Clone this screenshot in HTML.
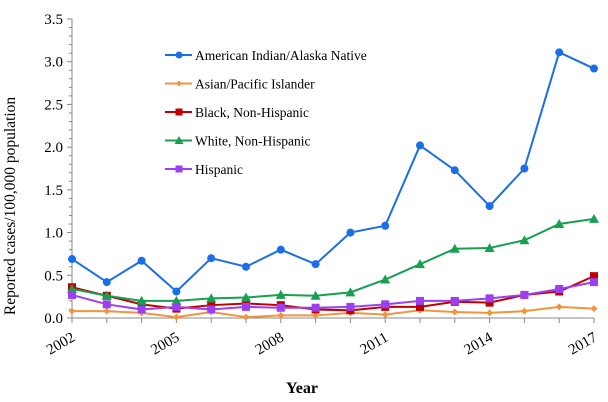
<!DOCTYPE html>
<html><head><meta charset="utf-8"><style>
body{margin:0;background:#fff}
svg{display:block;font-family:"Liberation Serif",serif}
</style></head><body>
<svg id="chart" width="608" height="402" viewBox="0 0 608 402">
<g id="axes"></g><g id="series"></g><g id="legend"></g>
<text x="15" y="206" transform="rotate(-90 15 206)" text-anchor="middle" font-size="15.5" fill="#000">Reported cases/100,000 population</text>
<text x="302" y="393" text-anchor="middle" font-size="16" font-weight="bold" fill="#000">Year</text>
</svg>
<script>
const years=[2002,2003,2004,2005,2006,2007,2008,2009,2010,2011,2012,2013,2014,2015,2016,2017];
const yTicks=[0,0.5,1.0,1.5,2.0,2.5,3.0,3.5];
const xLabels=[2002,2005,2008,2011,2014,2017];
const seriesNames=["American Indian/Alaska Native","Asian/Pacific Islander","Black, Non-Hispanic","White, Non-Hispanic","Hispanic"];
const aian=[0.69,0.42,0.67,0.31,0.70,0.60,0.80,0.63,1.00,1.08,2.02,1.73,1.31,1.75,3.11,2.92];
const asian=[0.08,0.08,0.06,0.01,0.07,0.01,0.03,0.03,0.06,0.04,0.09,0.07,0.06,0.08,0.13,0.11];
const black=[0.36,0.26,0.16,0.11,0.15,0.17,0.15,0.10,0.09,0.13,0.13,0.19,0.18,0.27,0.31,0.49];
const white=[0.34,0.26,0.20,0.20,0.23,0.24,0.27,0.26,0.30,0.45,0.63,0.81,0.82,0.91,1.10,1.16];
const hisp=[0.27,0.16,0.10,0.13,0.10,0.13,0.12,0.12,0.13,0.16,0.20,0.20,0.23,0.27,0.34,0.42];
const NS="http://www.w3.org/2000/svg";
const X0=72,X1=594,Y0=318,Y1=19;
const xs=y=>X0+(y-2002)/(2017-2002)*(X1-X0);
const ys=v=>Y0-v/3.5*(Y0-Y1);
function mk(t,a,p){const e=document.createElementNS(NS,t);for(const k in a)e.setAttribute(k,a[k]);p.appendChild(e);return e;}
const ax=document.getElementById('axes');
let l=mk('line',{x1:X0,y1:Y1,x2:X0,y2:Y0,stroke:'#888'},ax);


l=mk('line',{x1:X0,y1:Y0,x2:X1,y2:Y0,stroke:'#888'},ax);


for(let i=0;i<=35;i++){const v=i/10;mk('line',{x1:X0-(i%5==0?5:3),x2:X0,y1:ys(v),y2:ys(v),stroke:'#888'},ax);}
yTicks.forEach(v=>{const t=mk('text',{x:X0-9,y:ys(v)+5,'text-anchor':'end','font-size':15,fill:'#000'},ax);t.textContent=v.toFixed(1);

});
years.forEach(y=>mk('line',{x1:xs(y),x2:xs(y),y1:Y0,y2:Y0+5,stroke:'#888'},ax));
xLabels.forEach(y=>{const x=xs(y)+4,yy=Y0+22;const t=mk('text',{x:x,y:yy,'text-anchor':'end','font-size':15,fill:'#000',transform:`rotate(-30 ${x} ${yy})`},ax);t.textContent=y;

});
const sg=document.getElementById('series'),lg=document.getElementById('legend');
const defs=[[aian,'#1a6ee8','circle','aian'],[asian,'#f0953f','diamond','asian'],[black,'#c00000','square','black'],[white,'#16a050','triangle','white'],[hisp,'#9b3ff0','square','hispanic']];
function marker(shape,x,y,c,s,p){
 if(shape=='circle')return mk('circle',{cx:x,cy:y,r:s,fill:c},p);
 if(shape=='square')return mk('rect',{x:x-s,y:y-s,width:2*s,height:2*s,fill:c},p);
 if(shape=='diamond')return mk('polygon',{points:`${x},${y-s} ${x+s},${y} ${x},${y+s} ${x-s},${y}`,fill:c},p);
 return mk('polygon',{points:`${x},${y-s-1} ${x+s+1},${y+s} ${x-s-1},${y+s}`,fill:c},p);
}
defs.forEach((d,i)=>{
 const [vals,c,sh,nm]=d;
 const g=mk('g',{},sg);
 
 
 mk('polyline',{points:vals.map((v,j)=>xs(years[j])+','+ys(v)).join(' '),fill:'none',stroke:c,'stroke-width':2},g);
 vals.forEach((v,j)=>{const m=marker(sh,xs(years[j]),ys(v),c,sh=='diamond'?3.5:4,g);
 
 });
 const ly=55+i*28.5;
 const lgE=mk('g',{},lg);
 
 
 mk('line',{x1:165,x2:192,y1:ly,y2:ly,stroke:c,'stroke-width':2},lgE);
 marker(sh,179,ly,c,sh=='diamond'?3:3.5,lgE);
 const t=mk('text',{x:195,y:ly+5,'font-size':13.5,fill:'#000'},lgE);t.textContent=seriesNames[i];
});
</script>
</body></html>
